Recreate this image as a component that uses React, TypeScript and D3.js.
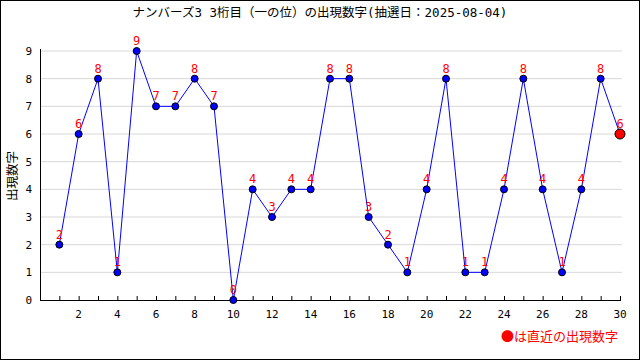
import React from "react";
import * as d3 from "d3";

const draws = d3.range(1, 31);
const digits = [2, 6, 8, 1, 9, 7, 7, 8, 7, 0, 4, 3, 4, 4, 8, 8, 3, 2, 1, 4, 8, 1, 1, 4, 8, 4, 1, 4, 8, 6];
const yTicks = d3.range(0, 10);
const xLabelTicks = d3.range(2, 31, 2);
const title = "ナンバーズ3 3桁目（一の位）の出現数字(抽選日：2025-08-04)";
const yTitle = "出現数字";
const legendText = "●は直近の出現数字";

export default function App() {
  const W = 640, H = 360;
  const x = d3.scaleLinear().domain([0, 30]).range([40, 620]);
  const y = d3.scaleLinear().domain([0, 9]).range([300, 51]);
  const line = d3.line<number>().x((_, i) => x(draws[i])).y((d) => y(d));
  const font = "'DejaVu Sans Mono', 'Noto Sans CJK JP', monospace";
  const cjk = "'Noto Sans CJK JP', sans-serif";
  return (
    <svg width={W} height={H} style={{ position: "absolute", left: 0, top: 0, background: "#fff" }}>
      <rect x={0.5} y={0.5} width={W - 1} height={H - 1} fill="#fff" stroke="#000" />
      <text x={320} y={17} textAnchor="middle" fontSize={12.5} fontFamily={font} fill="#000">{title}</text>
      {yTicks.filter((t) => t > 0).map((t) => (
        <line key={"g" + t} x1={40} x2={622} y1={y(t)} y2={y(t)} stroke="#d8d8d8" />
      ))}
      <line x1={40.5} x2={40.5} y1={y(9) - 2} y2={300} stroke="#000" />
      <line x1={40} x2={621} y1={300.5} y2={300.5} stroke="#000" />
      {yTicks.map((t) => (
        <text key={"yl" + t} x={32} y={y(t) + 4} textAnchor="end" fontSize={11} fontFamily={font} fill="#000">{t}</text>
      ))}
      {draws.map((d) => (
        <line key={"xt" + d} x1={x(d) + 0.5} x2={x(d) + 0.5} y1={296} y2={300} stroke="#000" />
      ))}
      {xLabelTicks.map((d) => (
        <text key={"xl" + d} x={x(d)} y={318} textAnchor="middle" fontSize={11} fontFamily={font} fill="#000">{d}</text>
      ))}
      <text transform="translate(17,176) rotate(-90)" textAnchor="middle" fontSize={12.5} fontFamily={cjk} fill="#000">{yTitle}</text>
      <path d={line(digits) || ""} fill="none" stroke="#0000ff" strokeWidth={1} />
      {digits.map((v, i) => {
        const last = i === digits.length - 1;
        return (
          <circle key={"p" + i} cx={x(draws[i])} cy={y(v)} r={last ? 5 : 3.5}
            fill={last ? "#ff0000" : "#0000ff"} stroke="#000" strokeWidth={1} />
        );
      })}
      {digits.map((v, i) => (
        <text key={"lb" + i} x={x(draws[i])} y={y(v) - 6} textAnchor="middle" fontSize={12} fontFamily={font} fill="#ff0000">{v}</text>
      ))}
      <text x={618} y={341} textAnchor="end" fontSize={13} fontFamily={cjk} fill="#ff0000">{legendText}</text>
    </svg>
  );
}
